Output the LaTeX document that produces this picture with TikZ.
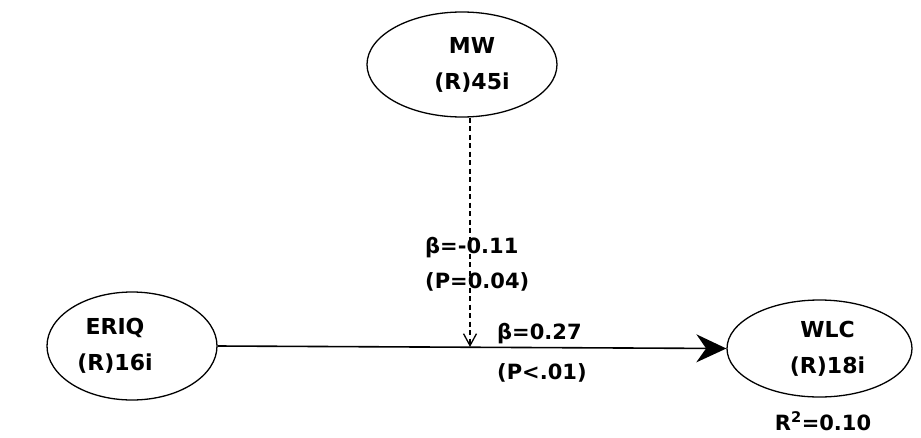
\documentclass[tikz,border=0pt]{standalone}
\usepackage{fontspec}
\setmainfont{DejaVu Sans}
\usetikzlibrary{shapes.geometric,arrows.meta}
\begin{document}
\begin{tikzpicture}[x=1pt,y=-1pt,
  latent/.style={draw=black,line width=1.3pt,ellipse,inner sep=0pt,align=center,font=\bfseries\fontsize{22}{36}\selectfont},
  coef/.style={align=left,anchor=west,inner sep=0pt,font=\bfseries\fontsize{21}{35}\selectfont},
  rsq/.style={inner sep=0pt,font=\bfseries\fontsize{21}{25}\selectfont},
  mainpath/.style={line width=1.6pt,-{Stealth[length=30pt,width=28pt]}},
  modpath/.style={line width=1.3pt,dash pattern=on 5pt off 3.5pt,-{Straight Barb[length=12pt,width=13pt]}}]
\useasboundingbox (0,0) rectangle (921,437);
\node[latent,minimum width=190pt,minimum height=105pt] (MW) at (462,64.5) {\hspace*{20pt}MW\\\hspace*{20pt}(R)45i};
\node[latent,minimum width=170pt,minimum height=108pt] (ERIQ) at (132,346) {ERIQ\hspace*{34pt}\\(R)16i\hspace*{34pt}};
\node[latent,minimum width=185pt,minimum height=97pt] (WLC) at (819.5,348.5) {\hspace*{16pt}WLC\\\hspace*{16pt}(R)18i};
\node[rsq] (R2) at (823,421) {R\textsuperscript{2}=0.10};
\coordinate (M) at (470,347);
\draw[mainpath] (ERIQ.east) -- (WLC.west);
\draw[modpath] (MW.south -| M) -- (M);
\node[coef] (b1) at (425,264.5) {β=-0.11\\(P=0.04)};
\node[coef] (b2) at (497,353) {β=0.27\\[5pt](P<.01)};
\end{tikzpicture}
\end{document}
